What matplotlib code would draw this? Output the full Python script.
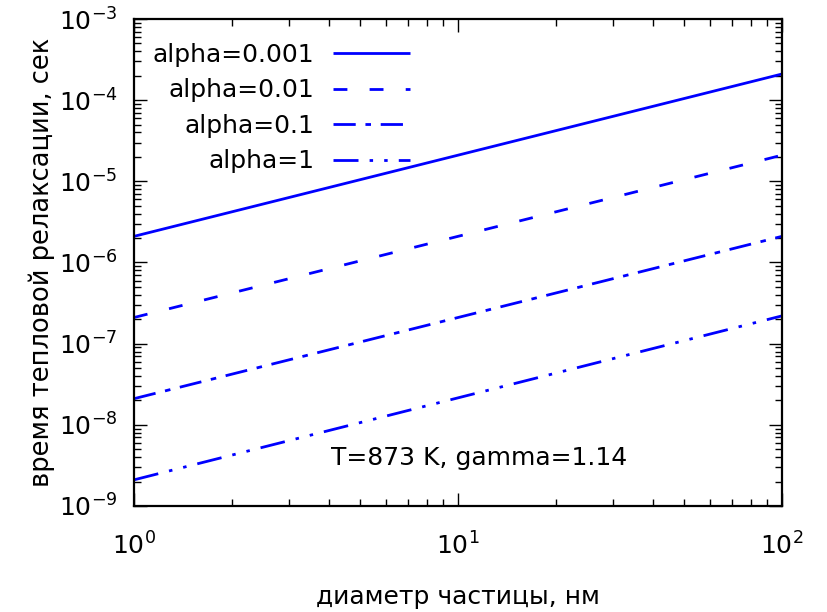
import matplotlib
matplotlib.use("Agg")
import matplotlib.pyplot as plt
from matplotlib.ticker import LogLocator, NullFormatter

plt.rcParams['font.family'] = ['DejaVu Sans']
plt.rcParams['mathtext.fontset'] = 'dejavusans'
plt.rcParams['lines.scale_dashes'] = False

# data
diameter_nm = [1, 100]
tau_alpha_0001 = [2.1e-6, 2.1e-4]
tau_alpha_001 = [2.1e-7, 2.1e-5]
tau_alpha_01 = [2.1e-8, 2.1e-6]
tau_alpha_1 = [2.1e-9, 2.2e-7]
labels = ["alpha=0.001", "alpha=0.01", "alpha=0.1", "alpha=1"]
annotation = "T=873 K, gamma=1.14"
xlabel = "диаметр частицы, нм"
ylabel = "время тепловой релаксации, сек"

FS = 18
fig = plt.figure(figsize=(8.28, 6.12), dpi=100)
ax = fig.add_axes([134/828, 1-506/612, (782-134)/828, (506-19)/612])

blue = '#0000ff'
lw = 2.0
series = [tau_alpha_0001, tau_alpha_001, tau_alpha_01, tau_alpha_1]
dashes = [None, (10, 16), (16, 7, 4, 7), (18, 8, 2.5, 8, 2.5, 8)]
for vals, lab, ds in zip(series, labels, dashes):
    line, = ax.plot(diameter_nm, vals, color=blue, lw=lw, label=lab,
                    solid_capstyle='butt', dash_capstyle='butt')
    if ds is not None:
        line.set_dashes(ds)

ax.set_xscale('log')
ax.set_yscale('log')
ax.set_xlim(1, 100)
ax.set_ylim(1e-9, 1e-3)

ax.xaxis.set_major_locator(LogLocator(base=10, numticks=10))
ax.yaxis.set_major_locator(LogLocator(base=10, numticks=10))
ax.xaxis.set_minor_locator(LogLocator(base=10, subs=range(2, 10), numticks=20))
ax.yaxis.set_minor_locator(LogLocator(base=10, subs=range(2, 10), numticks=20))
ax.xaxis.set_minor_formatter(NullFormatter())
ax.yaxis.set_minor_formatter(NullFormatter())

ax.tick_params(which='both', direction='in', top=True, right=True, width=1.0, color='black')
ax.tick_params(which='major', length=9.5)
ax.tick_params(which='minor', length=5)
ax.tick_params(axis='x', which='major', pad=19, labelsize=FS)
ax.tick_params(axis='y', which='major', pad=12, labelsize=FS)
for s in ax.spines.values():
    s.set_linewidth(1.6)

ax.set_xlabel(xlabel, fontsize=FS)
ax.set_ylabel(ylabel, fontsize=18.5)
ax.xaxis.set_label_coords(0.5, -0.162)
ax.yaxis.set_label_coords(-0.122, 0.5)

ax.text(0.532, 0.098, annotation, transform=ax.transAxes, ha='center', va='center', fontsize=FS)

leg = ax.legend(loc='upper right', bbox_to_anchor=(0.426, 0.951), frameon=False,
                markerfirst=False, fontsize=FS, handlelength=3.1, handletextpad=0.72,
                labelspacing=0.46, borderpad=0, borderaxespad=0)

fig.savefig('out.png', dpi=100)
